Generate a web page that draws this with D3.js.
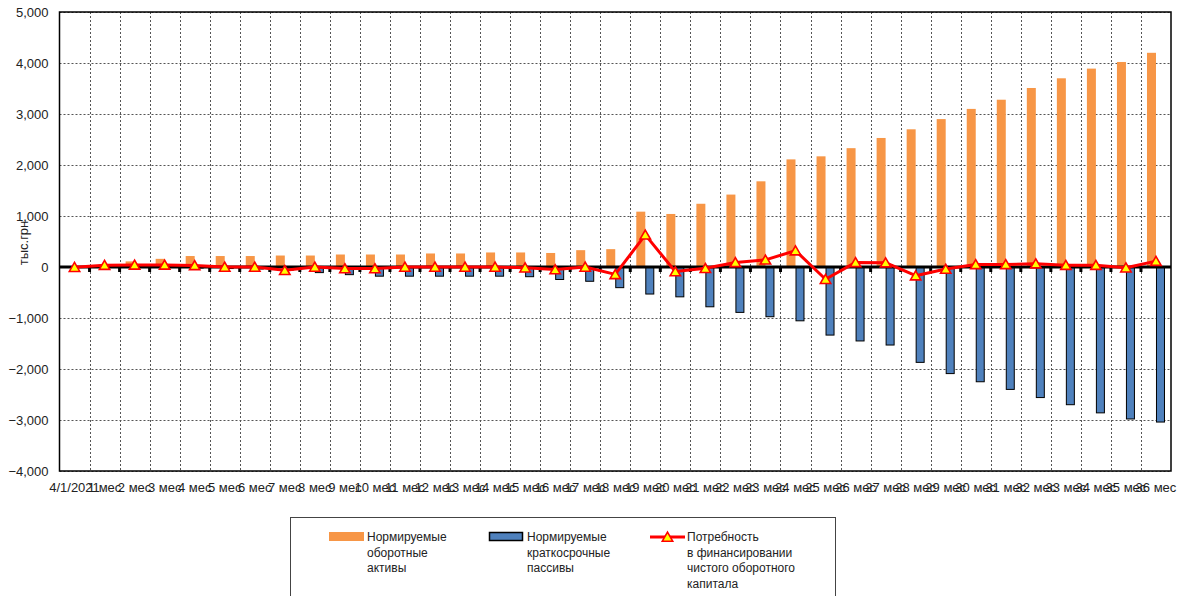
<!DOCTYPE html>
<html>
<head>
<meta charset="utf-8">
<script src="https://cdn.jsdelivr.net/npm/d3@7"></script>
<style>
  html, body { margin: 0; padding: 0; background: #fff; }
  svg { display: block; font-family: "Liberation Sans", Arial, sans-serif; }
</style>
</head>
<body>
<svg id="chart" width="1190" height="596"></svg>
<script>
// Period labels: start date, then months 1..36
const categories = ["4/1/2021"].concat(d3.range(1, 37).map(m => m + " мес"));

// Normalised current assets, thousand UAH
const assets = [0, 30, 110, 160, 215, 215, 215, 225, 225, 245, 245, 245, 265, 265, 285, 285, 275, 330, 350,
  1085, 1040, 1240, 1420, 1680, 2110, 2170, 2330, 2530, 2700, 2900, 3100, 3280, 3510, 3700, 3890, 4020, 4200];

// Normalised short-term liabilities, thousand UAH
const liabilities = [0, 0, 0, -10, -20, -30, -40, -60, -110, -150, -180, -180, -180, -180, -180, -190, -245, -280, -405,
  -530, -585, -780, -890, -975, -1055, -1335, -1450, -1530, -1870, -2090, -2250, -2400, -2560, -2700, -2860, -2980, -3040];

// Net working capital financing need, thousand UAH
const need = [-5, 35, 40, 40, 30, 0, 0, -65, 0, -30, -30, 0, 0, 0, 0, -15, -50, 0, -145,
  630, -90, -25, 90, 140, 320, -240, 90, 85, -170, -40, 50, 50, 65, 35, 35, -15, 115];

const yTicks = [-4000, -3000, -2000, -1000, 0, 1000, 2000, 3000, 4000, 5000];

const seriesNames = ["Нормируемые оборотные активы", "Нормируемые краткосрочные пассивы",
  "Потребность в финансировании чистого оборотного капитала"];
const legendLines = [
  ["Нормируемые", "оборотные", "активы"],
  ["Нормируемые", "краткосрочные", "пассивы"],
  ["Потребность", "в финансировании", "чистого оборотного", "капитала"]
];

const ORANGE = "#f79646", BLUE = "#4f81bd", RED = "#ff0000", YELLOW = "#ffff00";

const svg = d3.select("#chart");
const plot = { left: 59.5, right: 1171, top: 12, bottom: 471 };

const x = d3.scaleBand().domain(categories).range([plot.left, plot.right]).padding(0);
const y = d3.scaleLinear().domain([-4000, 5000]).range([plot.bottom, plot.top]);
const cx = c => x(c) + x.bandwidth() / 2;
// two bars per period, side by side around the period centre
const sub = d3.scaleBand().domain(["a", "l"]).range([-9, 9]).padding(0);

const fmt = d3.format(",");

// horizontal grid
svg.append("g").selectAll("line").data(yTicks).join("line")
  .attr("x1", plot.left).attr("x2", plot.right)
  .attr("y1", d => Math.round(y(d)) + 0.5).attr("y2", d => Math.round(y(d)) + 0.5)
  .attr("stroke", "#555").attr("stroke-width", 1).attr("stroke-dasharray", "2,2");

// vertical grid on period boundaries
svg.append("g").selectAll("line").data(categories.slice(1)).join("line")
  .attr("x1", d => Math.round(x(d)) + 0.5).attr("x2", d => Math.round(x(d)) + 0.5)
  .attr("y1", plot.top).attr("y2", plot.bottom)
  .attr("stroke", "#555").attr("stroke-width", 1).attr("stroke-dasharray", "2,2");

// plot frame
svg.append("rect")
  .attr("x", plot.left).attr("y", plot.top)
  .attr("width", plot.right - plot.left).attr("height", plot.bottom - plot.top)
  .attr("fill", "none").attr("stroke", "#000").attr("stroke-width", 1.5);

// y axis labels
const yAxis = d3.axisLeft(y).tickValues(yTicks).tickFormat(fmt).tickSize(0).tickPadding(11);
const yg = svg.append("g").attr("transform", `translate(${plot.left},0)`).call(yAxis);
yg.select(".domain").remove();
yg.selectAll("text").attr("font-size", 13).attr("fill", "#222")
  .attr("font-family", "Liberation Sans, Arial, sans-serif");

// y axis title
svg.append("text")
  .attr("transform", "translate(28,243) rotate(-90)")
  .attr("text-anchor", "middle").attr("font-size", 13).attr("fill", "#222")
  .text("тыс.грн");

// asset bars
svg.append("g").selectAll("rect").data(categories).join("rect")
  .attr("x", (c) => cx(c) + sub("a"))
  .attr("width", sub.bandwidth())
  .attr("y", (c, i) => y(Math.max(0, assets[i])))
  .attr("height", (c, i) => Math.abs(y(assets[i]) - y(0)))
  .attr("fill", ORANGE);

// liability bars
svg.append("g").selectAll("rect").data(categories).join("rect")
  .attr("x", (c) => cx(c) + sub("l") + 0.5)
  .attr("width", sub.bandwidth() - 1)
  .attr("y", (c, i) => y(Math.max(0, liabilities[i])))
  .attr("height", (c, i) => Math.abs(y(liabilities[i]) - y(0)))
  .attr("fill", BLUE).attr("stroke", "#000").attr("stroke-width", 1)
  .attr("display", (c, i) => liabilities[i] === 0 ? "none" : null);

// category axis on the zero line
const xAxis = d3.axisBottom(x).tickSize(0).tickFormat("");
const xg = svg.append("g").attr("transform", `translate(0,${y(0)})`).call(xAxis);
xg.select(".domain").attr("stroke", "#000").attr("stroke-width", 3)
  .attr("d", `M${plot.left},0H${plot.right}`);
xg.selectAll(".tick").remove();
svg.append("g").selectAll("line").data(categories.slice(1)).join("line")
  .attr("x1", d => x(d)).attr("x2", d => x(d))
  .attr("y1", y(0)).attr("y2", y(0) + 5)
  .attr("stroke", "#000").attr("stroke-width", 3);

// period labels along the bottom
svg.append("g").selectAll("text").data(categories).join("text")
  .attr("x", cx).attr("y", 492)
  .attr("text-anchor", "middle").attr("font-size", 13).attr("fill", "#222")
  .text(d => d);

// need line with triangle markers
const line = d3.line().x((d, i) => cx(categories[i])).y(d => y(d));
svg.append("path").datum(need)
  .attr("d", line).attr("fill", "none")
  .attr("stroke", RED).attr("stroke-width", 3).attr("stroke-linejoin", "round");

const tri = "M0,-4.8L5.2,4.2L-5.2,4.2Z";
svg.append("g").selectAll("path").data(need).join("path")
  .attr("d", tri)
  .attr("transform", (d, i) => `translate(${cx(categories[i])},${y(d)})`)
  .attr("fill", YELLOW).attr("stroke", RED).attr("stroke-width", 1.6);

// legend
const lg = svg.append("g");
lg.append("rect").attr("x", 290.5).attr("y", 517.5).attr("width", 545).attr("height", 90)
  .attr("fill", "#fff").attr("stroke", "#444").attr("stroke-width", 1);

const legendX = [329, 489, 650];
const textX = [367, 527, 687];
const rowY = 537;

lg.append("rect").attr("x", legendX[0]).attr("y", rowY - 5).attr("width", 35).attr("height", 9)
  .attr("fill", ORANGE);
lg.append("rect").attr("x", legendX[1] + 0.5).attr("y", rowY - 4.5).attr("width", 33).attr("height", 8)
  .attr("fill", BLUE).attr("stroke", "#000").attr("stroke-width", 1.5);
lg.append("line").attr("x1", legendX[2]).attr("x2", legendX[2] + 35)
  .attr("y1", rowY).attr("y2", rowY).attr("stroke", RED).attr("stroke-width", 3);
lg.append("path").attr("d", tri).attr("transform", `translate(${legendX[2] + 17.5},${rowY})`)
  .attr("fill", YELLOW).attr("stroke", RED).attr("stroke-width", 1.6);

legendLines.forEach((lines, k) => {
  const t = lg.append("text").attr("x", textX[k]).attr("y", rowY + 4)
    .attr("font-size", 12).attr("fill", "#222");
  lines.forEach((s, j) => {
    t.append("tspan").attr("x", textX[k]).attr("dy", j === 0 ? 0 : 15.5).text(s);
  });
  t.append("title").text(seriesNames[k]);
});
</script>
</body>
</html>
